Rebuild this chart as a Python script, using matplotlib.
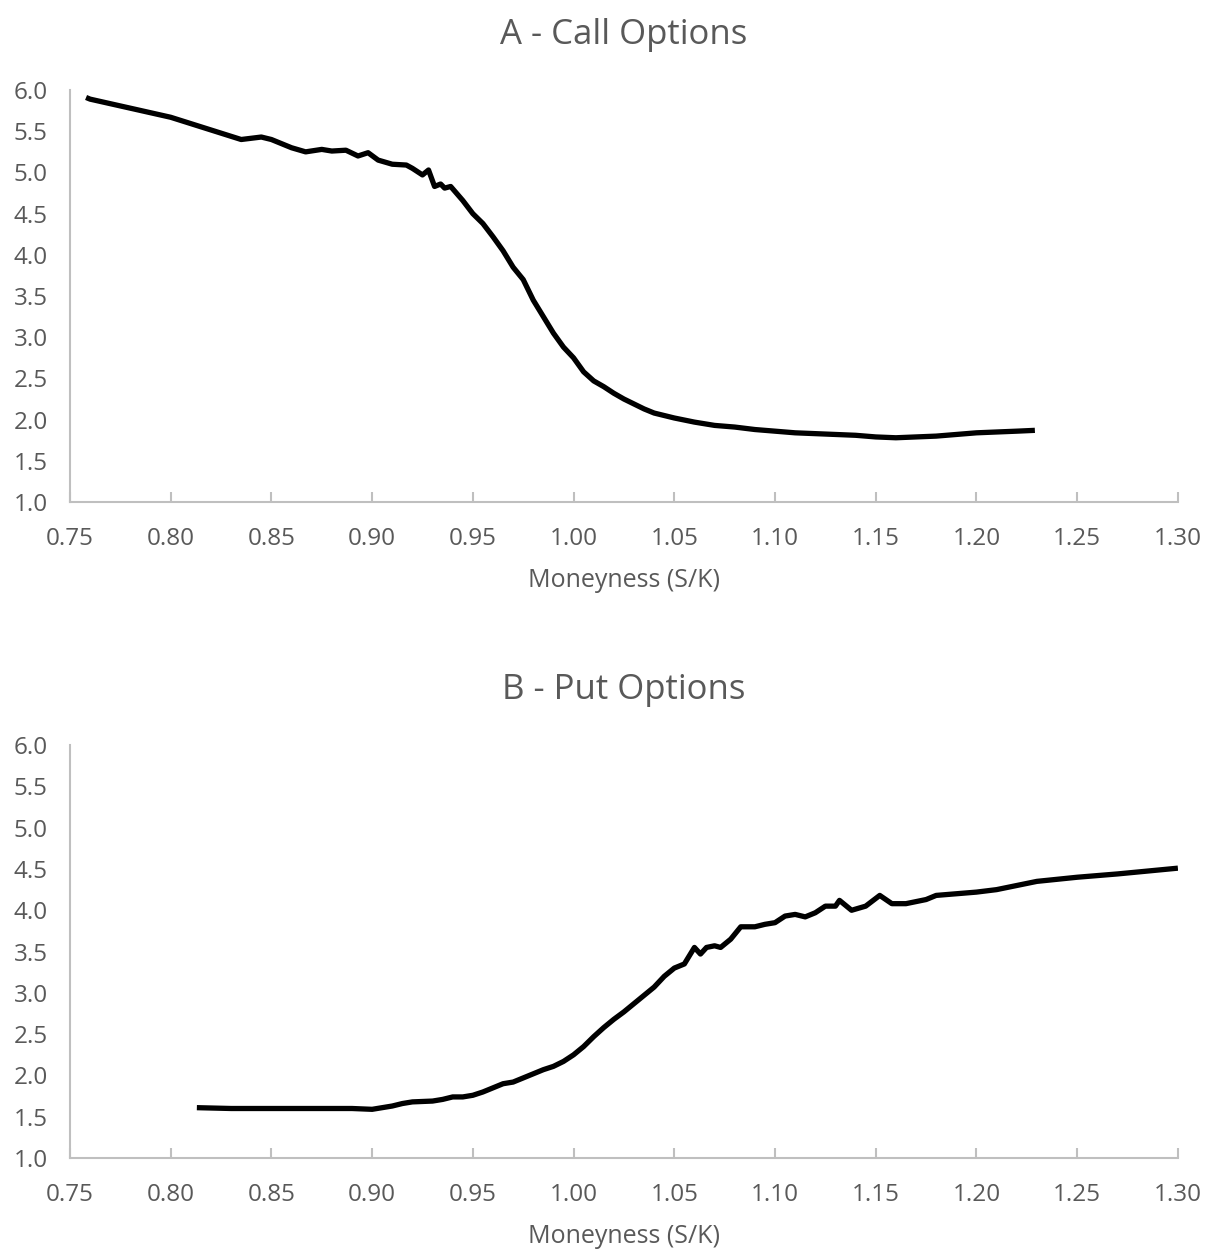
import matplotlib
matplotlib.use("Agg")
import matplotlib.pyplot as plt

plt.rcParams['font.family'] = ['Open Sans', 'DejaVu Sans']

call_x = [0.758, 0.76, 0.80, 0.835, 0.845, 0.85, 0.86, 0.867, 0.875, 0.88, 0.887, 0.893, 0.898,
          0.903, 0.91, 0.917, 0.92, 0.925, 0.928, 0.931, 0.934, 0.936, 0.939, 0.945, 0.95,
          0.955, 0.96, 0.965, 0.97, 0.975, 0.98, 0.985, 0.99, 0.995, 1.00, 1.005, 1.01, 1.015,
          1.02, 1.025, 1.03, 1.035, 1.04, 1.05, 1.06, 1.07, 1.08, 1.09, 1.10, 1.11, 1.12,
          1.13, 1.14, 1.15, 1.16, 1.17, 1.18, 1.19, 1.20, 1.21, 1.22, 1.229]
call_y = [5.91, 5.89, 5.67, 5.40, 5.43, 5.40, 5.30, 5.25, 5.28, 5.26, 5.27, 5.20, 5.24,
          5.15, 5.10, 5.09, 5.05, 4.97, 5.03, 4.83, 4.86, 4.81, 4.83, 4.66, 4.50,
          4.38, 4.22, 4.05, 3.85, 3.70, 3.45, 3.25, 3.05, 2.88, 2.75, 2.58, 2.47, 2.40,
          2.32, 2.25, 2.19, 2.13, 2.08, 2.02, 1.97, 1.93, 1.91, 1.88, 1.86, 1.84, 1.83,
          1.82, 1.81, 1.79, 1.78, 1.79, 1.80, 1.82, 1.84, 1.85, 1.86, 1.87]

put_x = [0.813, 0.83, 0.85, 0.87, 0.89, 0.90, 0.905, 0.91, 0.915, 0.92, 0.93, 0.935, 0.94,
         0.945, 0.95, 0.955, 0.96, 0.965, 0.97, 0.975, 0.98, 0.985, 0.99, 0.995, 1.00,
         1.005, 1.01, 1.015, 1.02, 1.025, 1.03, 1.035, 1.04, 1.045, 1.05, 1.055, 1.06,
         1.063, 1.066, 1.07, 1.073, 1.078, 1.083, 1.09, 1.095, 1.10, 1.105, 1.11, 1.115,
         1.12, 1.125, 1.13, 1.132, 1.138, 1.145, 1.152, 1.158, 1.165, 1.175, 1.18, 1.19,
         1.20, 1.21, 1.22, 1.23, 1.25, 1.27, 1.30]
put_y = [1.61, 1.60, 1.60, 1.60, 1.60, 1.59, 1.61, 1.63, 1.66, 1.68, 1.69, 1.71, 1.74,
         1.74, 1.76, 1.80, 1.85, 1.90, 1.92, 1.97, 2.02, 2.07, 2.11, 2.17, 2.25,
         2.35, 2.47, 2.58, 2.68, 2.77, 2.87, 2.97, 3.07, 3.20, 3.30, 3.35, 3.55,
         3.47, 3.55, 3.57, 3.55, 3.65, 3.80, 3.80, 3.83, 3.85, 3.93, 3.95, 3.92,
         3.97, 4.05, 4.05, 4.12, 4.00, 4.05, 4.18, 4.08, 4.08, 4.13, 4.18, 4.20,
         4.22, 4.25, 4.30, 4.35, 4.40, 4.44, 4.51]

x_ticks = [0.75, 0.80, 0.85, 0.90, 0.95, 1.00, 1.05, 1.10, 1.15, 1.20, 1.25, 1.30]
y_ticks = [1.0, 1.5, 2.0, 2.5, 3.0, 3.5, 4.0, 4.5, 5.0, 5.5, 6.0]
titles = ["A - Call Options", "B - Put Options"]
xlabel = "Moneyness (S/K)"

grey = '#595959'
spine = '#bfbfbf'

fig = plt.figure(figsize=(12.06, 12.51), dpi=100)
ax1 = fig.add_axes([0.058, 0.5987, 0.9187, 0.3293])
ax2 = fig.add_axes([0.058, 0.0743, 0.9187, 0.3301])

for ax, xs, ys, t in [(ax1, call_x, call_y, titles[0]), (ax2, put_x, put_y, titles[1])]:
    ax.plot(xs, ys, color='black', linewidth=3.8, solid_capstyle='butt')
    ax.set_xlim(0.75, 1.30)
    ax.set_ylim(1.0, 6.0)
    ax.set_xticks(x_ticks)
    ax.set_xticklabels([f"{v:.2f}" for v in x_ticks])
    ax.set_yticks(y_ticks)
    ax.set_yticklabels([f"{v:.1f}" for v in y_ticks])
    for s in ['top', 'right']:
        ax.spines[s].set_visible(False)
    for s in ['left', 'bottom']:
        ax.spines[s].set_color(spine)
        ax.spines[s].set_linewidth(1.5)
    ax.tick_params(axis='x', direction='in', length=7, width=1.5, color=spine,
                   labelsize=17.5, labelcolor=grey, pad=18)
    ax.tick_params(axis='y', length=0, labelsize=17.5, labelcolor=grey, pad=16)
    ax.set_title(t, fontsize=25, color=grey, pad=33)
    ax.set_xlabel(xlabel, fontsize=18, color=grey, labelpad=12)

fig.savefig("out.png", dpi=100)
